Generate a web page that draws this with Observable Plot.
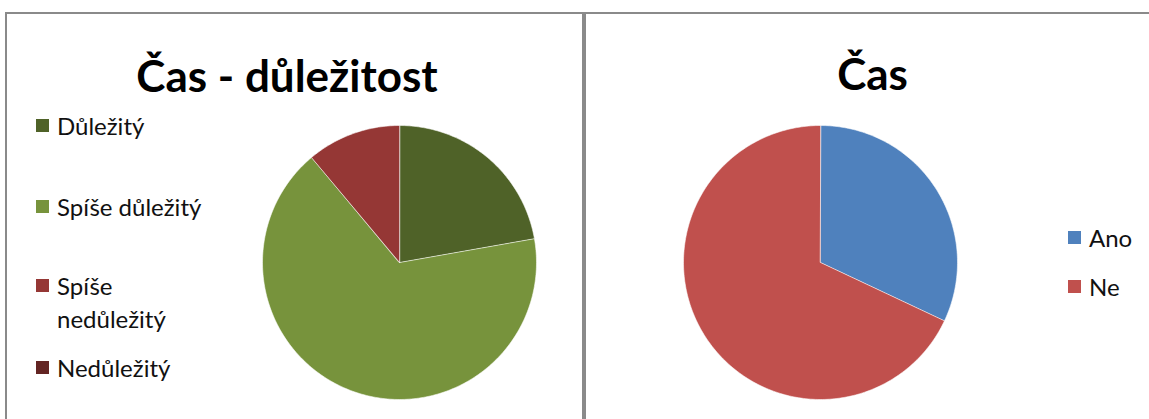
<!DOCTYPE html>
<html>
<head>
<meta charset="utf-8">
<script src="https://cdn.jsdelivr.net/npm/d3@7"></script>
<script src="https://cdn.jsdelivr.net/npm/@observablehq/plot@0.6"></script>
<style>
  html, body { margin: 0; padding: 0; background: #fff; }
  #wrap { position: relative; width: 1149px; height: 419px; overflow: hidden; background: #fff; font-family: Lato, "Open Sans", sans-serif; }
  .panel { position: absolute; top: 12px; height: 430px; border: 2px solid #8a8a8a; box-sizing: border-box; background: #fff; }
  .panel svg { position: absolute; left: 0; top: 0; }
  .leg { position: absolute; font-size: 24px; line-height: 33px; color: #111; }
  .leg .sw { position: absolute; width: 13px; height: 13px; }
  .leg .lb { position: absolute; white-space: normal; }
</style>
</head>
<body>
<div id="wrap">
  <div class="panel" id="p1" style="left:5px; width:579px;"></div>
  <div class="panel" id="p2" style="left:584px; width:600px;"></div>
</div>
<script>
// ---- data ----
const titles = ["Čas - důležitost", "Čas"];
const leftCategories = ["Důležitý", "Spíše důležitý", "Spíše nedůležitý", "Nedůležitý"];
const leftValues = [2, 6, 1, 0];
const leftColors = ["#4F6228", "#77933C", "#953735", "#632523"];
const rightCategories = ["Ano", "Ne"];
const rightValues = [32, 68];
const rightColors = ["#4F81BD", "#C0504D"];

// build pie polygons in unit-circle data space (clockwise from 12 o'clock)
function pieRows(cats, vals) {
  const total = d3.sum(vals);
  const rows = [];
  let acc = 0;
  cats.forEach((c, i) => {
    const v = vals[i];
    if (v <= 0) return;
    const a0 = acc / total * 2 * Math.PI;
    acc += v;
    const a1 = acc / total * 2 * Math.PI;
    rows.push({cat: c, x: 0, y: 0});
    const n = Math.max(2, Math.ceil((a1 - a0) / (Math.PI / 180)));
    for (let k = 0; k <= n; k++) {
      const a = a0 + (a1 - a0) * k / n;
      rows.push({cat: c, x: Math.sin(a), y: Math.cos(a)});
    }
  });
  return rows;
}

function makePie(cfg) {
  const {width, height, cx, cy, r, cats, vals, colors, title, titleDx, titleDy, titleSize, titleWeight} = cfg;
  return Plot.plot({
    width, height,
    margin: 0,
    style: {background: "transparent", overflow: "visible"},
    x: {domain: [-1, 1], range: [cx - r, cx + r], axis: null},
    y: {domain: [-1, 1], range: [cy + r, cy - r], axis: null},
    color: {domain: cats, range: colors},
    marks: [
      Plot.line(pieRows(cats, vals), {x: "x", y: "y", z: "cat", fill: "cat", stroke: "#ffffff", strokeWidth: 0.8, strokeOpacity: 0.7, curve: "linear-closed"}),
      Plot.text([title], {text: d => d, frameAnchor: "top", dx: titleDx, dy: titleDy, fontSize: titleSize, fontWeight: titleWeight, fill: "#000", fontFamily: "Lato, 'Open Sans', sans-serif", lineAnchor: "bottom"})
    ]
  });
}

function addLegend(panel, plot, cats, items) {
  const color = plot.scale("color");
  cats.forEach((c, i) => {
    const it = items[i];
    const d = document.createElement("div");
    d.className = "leg";
    d.style.left = it.x + "px";
    d.style.top = it.y + "px";
    const sw = document.createElement("div");
    sw.className = "sw";
    sw.style.background = color.apply(c);
    sw.style.left = "0px";
    sw.style.top = "10px";
    const lb = document.createElement("div");
    lb.className = "lb";
    lb.style.left = it.tx + "px";
    lb.style.top = "0px";
    lb.style.width = it.w + "px";
    lb.textContent = c;
    d.appendChild(sw);
    d.appendChild(lb);
    panel.appendChild(d);
  });
}

const p1 = document.getElementById("p1");
const plot1 = makePie({
  width: 575, height: 405, cx: 392, cy: 248, r: 137,
  cats: leftCategories, vals: leftValues, colors: leftColors,
  title: titles[0], titleDx: -8, titleDy: 77, titleSize: 44, titleWeight: 700
});
p1.appendChild(plot1);
addLegend(p1, plot1, leftCategories, [
  {x: 29, y: 95, tx: 21, w: 160},
  {x: 29, y: 176, tx: 21, w: 160},
  {x: 29, y: 255, tx: 21, w: 160},
  {x: 29, y: 337, tx: 21, w: 160}
]);

const p2 = document.getElementById("p2");
const plot2 = makePie({
  width: 596, height: 405, cx: 234, cy: 248, r: 137,
  cats: rightCategories, vals: rightValues, colors: rightColors,
  title: titles[1], titleDx: -12, titleDy: 75, titleSize: 44, titleWeight: 700
});
p2.appendChild(plot2);
addLegend(p2, plot2, rightCategories, [
  {x: 482, y: 207, tx: 21, w: 100},
  {x: 482, y: 256, tx: 21, w: 100}
]);
</script>
</body>
</html>
